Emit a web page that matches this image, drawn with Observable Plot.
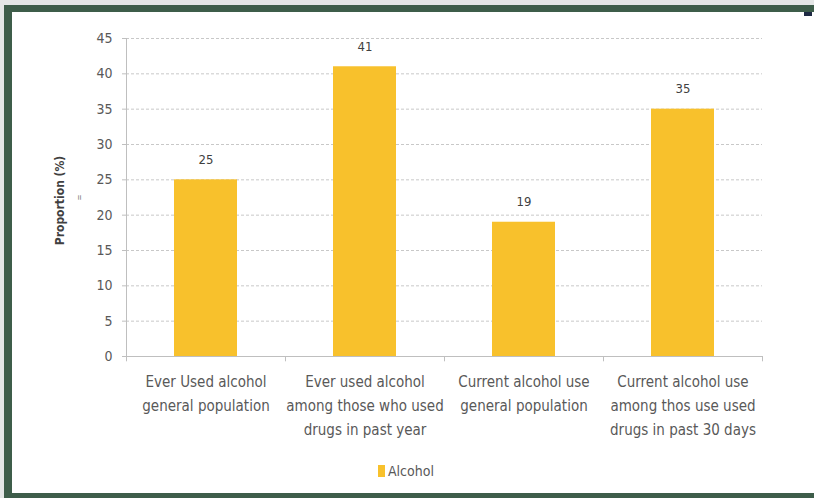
<!DOCTYPE html>
<html>
<head>
<meta charset="utf-8">
<script src="https://cdn.jsdelivr.net/npm/d3@7"></script>
<script src="https://cdn.jsdelivr.net/npm/@observablehq/plot@0.6"></script>
<style>
  html, body { margin: 0; padding: 0; }
  body { width: 814px; height: 498px; background: #e4e6e6; position: relative; overflow: hidden;
         font-family: "Liberation Sans Narrow", "DejaVu Sans Condensed", "Roboto", sans-serif; }
  #border { position: absolute; left: 4px; top: 5px; width: 810px; height: 493px; background: #3e5d4a; }
  #panel { position: absolute; left: 12px; top: 12px; width: 802px; height: 481px; background: #ffffff; }
  #chart { position: absolute; left: 0; top: 0; }
  #legend { position: absolute; left: 378px; top: 463px; font-size: 14px; color: #595959; display: flex; align-items: center; }
  #legend .sw { width: 7px; height: 12px; background: #f8c12c; margin-right: 3px; }
  #mark { position: absolute; left: 804px; top: 12px; width: 8px; height: 4px; background: #1f2a44; }
</style>
</head>
<body>
<div id="border"></div>
<div id="panel"></div>
<div id="mark"></div>
<div id="chart"></div>
<div id="legend"><span class="sw"></span><span>Alcohol</span></div>
<script>
const categories = [
  "Ever Used alcohol\ngeneral population",
  "Ever used alcohol\namong those who used\ndrugs in past year",
  "Current alcohol use\ngeneral population",
  "Current alcohol use\namong thos use used\ndrugs in past 30 days"
];
const values = [25, 41, 19, 35];
const yTicks = [0, 5, 10, 15, 20, 25, 30, 35, 40, 45];
const seriesName = "Alcohol";
const yLabel = "Proportion (%)";

const data = categories.map((c, i) => ({category: c, value: values[i]}));
const font = '"Liberation Sans Narrow", "DejaVu Sans Condensed", sans-serif';

const W = 814, ML = 126, MR = 52;
const step = (W - ML - MR) / categories.length;

const chart = Plot.plot({
  width: W,
  height: 460,
  marginLeft: ML,
  marginRight: MR,
  marginTop: 38,
  marginBottom: 104,
  style: {background: "transparent", fontFamily: font, fontSize: "13px", color: "#595959", overflow: "visible"},
  x: {domain: categories, paddingInner: 0.604, paddingOuter: 0.302, label: null},
  y: {domain: [0, 45], ticks: yTicks, label: null},
  marks: [
    Plot.gridY(yTicks.filter(t => t > 0), {stroke: "#c8c8c8", strokeOpacity: 1, strokeDasharray: "3,2"}),
    Plot.barY(data, {x: "category", y: "value", fill: "#f8c12c"}),
    Plot.text(data, {x: "category", y: "value", text: d => String(d.value), dy: -20, fill: "#404040", fontSize: 13}),
    Plot.ruleY([0], {stroke: "#bfbfbf"}),
    Plot.ruleX(categories, {x: d => d, y1: d => 0, y2: d => -0.75, dx: -step / 2, stroke: "#bfbfbf"}),
    Plot.ruleX([categories[categories.length - 1]], {x: d => d, y1: d => 0, y2: d => -0.75, dx: step / 2, stroke: "#bfbfbf"}),
    Plot.ruleX([categories[0]], {x: d => d, y1: d => 0, y2: d => 45, dx: -step / 2, stroke: "#bfbfbf"}),
    Plot.axisY({ticks: yTicks, tickSize: 4, tickPadding: 10, stroke: "#bfbfbf", fill: "#595959", fontSize: 14}),
    Plot.axisX({tickSize: 0, tickPadding: 13, fill: "#595959", fontSize: 15, lineHeight: 1.6, textAnchor: "middle"}),
    Plot.text([yLabel], {frameAnchor: "left", dx: -66, dy: 3, rotate: -90, textAnchor: "middle", text: d => d, fill: "#404040", fontSize: 12, fontWeight: "bold"}),
    Plot.text(["="], {frameAnchor: "left", dx: -47, rotate: -90, textAnchor: "middle", text: d => d, fill: "#808080", fontSize: 8})
  ]
});
document.getElementById("chart").appendChild(chart);
</script>
</body>
</html>
